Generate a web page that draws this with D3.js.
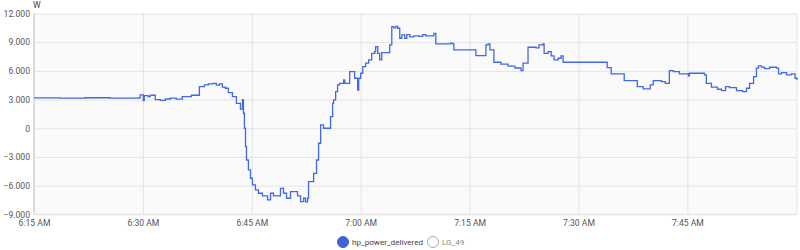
<!DOCTYPE html>
<html>
<head>
<meta charset="utf-8">
<script src="https://cdn.jsdelivr.net/npm/d3@7"></script>
<style>
  body { margin: 0; background: #fff; }
  svg { display: block; font-family: Roboto, sans-serif; }
</style>
</head>
<body>
<div class="chart"></div>
<script>
var times = [
  "06:15:00","06:18:35","06:22:02","06:25:29","06:29:30","06:29:38","06:30:03","06:30:11",
  "06:30:44","06:31:01","06:31:42","06:32:24","06:33:05","06:33:46","06:34:36","06:35:26",
  "06:36:40","06:37:47","06:38:28","06:39:01","06:39:42","06:40:07","06:40:32","06:40:57",
  "06:41:22","06:41:47","06:42:20","06:42:53","06:43:26","06:43:43","06:43:51","06:43:59",
  "06:44:08","06:44:16","06:44:32","06:44:49","06:45:05","06:45:30","06:45:55","06:46:28",
  "06:47:10","06:47:35","06:47:59","06:48:57","06:49:22","06:49:47","06:50:20","06:51:18",
  "06:51:43","06:52:08","06:52:24","06:52:41","06:52:49","06:53:31","06:53:55","06:54:12",
  "06:54:29","06:54:53","06:55:51","06:56:08","06:56:16","06:56:33","06:56:49","06:57:06",
  "06:57:39","06:57:48","06:58:29","06:59:10","06:59:35","06:59:44","07:00:00","07:00:17",
  "07:00:41","07:01:06","07:01:31","07:01:56","07:02:04","07:02:21","07:02:37","07:02:54",
  "07:04:00","07:04:17","07:04:33","07:04:50","07:05:06","07:05:23","07:05:40","07:06:04",
  "07:06:21","07:06:46","07:07:19","07:08:00","07:08:33","07:08:58","07:10:05","07:10:21",
  "07:12:25","07:12:42","07:12:50","07:15:52","07:17:15","07:17:32","07:17:48","07:18:21",
  "07:19:19","07:20:17","07:21:15","07:22:05","07:22:22","07:23:03","07:24:09","07:24:34",
  "07:25:07","07:25:16","07:25:49","07:26:14","07:26:38","07:27:12","07:27:36","07:27:53",
  "07:33:57","07:34:30","07:36:18","07:38:06","07:38:55","07:39:53","07:40:18","07:41:25",
  "07:41:58","07:42:31","07:43:04","07:43:54","07:45:08","07:45:16","07:47:21","07:47:37",
  "07:48:19","07:49:08","07:49:42","07:50:15","07:50:48","07:51:46","07:52:36","07:53:09",
  "07:53:34","07:54:07","07:54:31","07:54:48","07:55:13","07:55:38","07:56:19","07:57:17",
  "07:57:34","07:57:58","07:58:40","07:59:21","07:59:50","08:00:06"
];
var power = [
  3170,3150,3190,3160,3200,3480,2900,3420,
  3300,3450,3000,2920,3060,3150,3050,3300,
  3450,4350,4530,4630,4700,4500,4650,4300,
  4180,3720,3300,2610,1990,3000,1570,0,
  -1920,-3320,-4360,-5230,-5930,-6450,-6800,-7080,
  -7500,-6800,-7080,-6280,-6800,-7320,-6630,-7080,
  -7680,-7320,-7700,-7320,-5590,-4710,-3320,-1570,
  350,0,1210,2610,2960,3830,4530,4700,
  5050,4700,5920,5230,4000,5230,5750,6440,
  6800,7140,7840,8010,8530,7840,7140,7900,
  8710,10630,10500,10650,10460,9410,9760,9400,
  9800,9550,9650,9600,9800,9650,9930,8820,
  8900,8820,8190,7590,8710,8820,8190,6900,
  6700,6500,6300,6030,6800,8470,8400,8710,
  8820,7840,8010,7560,7140,7320,7560,6900,
  6340,5680,4980,4350,4110,4530,4980,4880,
  4700,6030,5920,5680,5470,5750,5580,4700,
  4290,4080,3930,4350,4250,3930,3830,4180,
  4700,5400,6280,6520,6400,6230,6380,6280,
  5680,5820,5580,5680,5230,5050
];
var yTicks = [-9000, -6000, -3000, 0, 3000, 6000, 9000, 12000];
var xTicks = ["06:15", "06:30", "06:45", "07:00", "07:15", "07:30", "07:45"];
var seriesNames = ["hp_power_delivered", "LG_49"];

function init() {
    var w = 800;
    var h = 250;
    var left = 34, right = 797, top = 13.5, bottom = 214.3;

    var parseTime = d3.timeParse("%H:%M:%S");
    var parseTick = d3.timeParse("%H:%M");
    var data = times.map(function(t, i) {
        return { date: parseTime(t), value: power[i] };
    });

    var x = d3.scaleTime()
        .domain([parseTime("06:15:00"), parseTime("08:00:06")])
        .range([left, right]);
    var y = d3.scaleLinear()
        .domain([-9000, 12000])
        .range([bottom, top]);

    var svg = d3.select(".chart")
        .append("svg")
        .attr("width", w)
        .attr("height", h);

    svg.append("rect")
        .attr("x", left)
        .attr("y", top)
        .attr("width", right - left)
        .attr("height", bottom - top)
        .attr("fill", "#fafafa");

    var fmt = d3.formatLocale({ decimal: ",", thousands: ".", grouping: [3], currency: ["", ""] }).format(",d");

    var yAxis = svg.append("g")
        .attr("transform", "translate(" + left + ",0)")
        .call(d3.axisLeft(y).tickValues(yTicks).tickSize(-(right - left)).tickPadding(4).tickFormat(fmt));
    var xAxis = svg.append("g")
        .attr("transform", "translate(0," + bottom + ")")
        .call(d3.axisBottom(x).tickValues(xTicks.map(parseTick)).tickSize(-(bottom - top)).tickPadding(6)
            .tickFormat(d3.timeFormat("%-I:%M %p")));

    [yAxis, xAxis].forEach(function(g) {
        g.select(".domain").remove();
        g.selectAll(".tick line").attr("stroke", "#e4e4e4").attr("stroke-width", 1);
        g.selectAll(".tick text").attr("fill", "#555").style("font-size", "8.6px").style("font-family", "Roboto, sans-serif");
    });

    // frame: left axis, bottom and right edges
    svg.append("line").attr("x1", left).attr("x2", left).attr("y1", top).attr("y2", bottom)
        .attr("stroke", "#d6d6d6").attr("stroke-width", 1.5);
    svg.append("line").attr("x1", left).attr("x2", right).attr("y1", bottom).attr("y2", bottom)
        .attr("stroke", "#e4e4e4");
    svg.append("line").attr("x1", right).attr("x2", right).attr("y1", top).attr("y2", bottom)
        .attr("stroke", "#e4e4e4");

    svg.append("text")
        .attr("x", left - 1)
        .attr("y", 8)
        .attr("fill", "#444")
        .style("font-size", "8.6px")
        .text("W");

    var line = d3.line()
        .curve(d3.curveStepAfter)
        .x(function(d) { return x(d.date); })
        .y(function(d) { return y(d.value); });

    svg.append("path")
        .datum(data)
        .attr("fill", "none")
        .attr("stroke", "#4169e1")
        .attr("stroke-width", 1.3)
        .attr("d", line);

    // legend
    var legend = svg.append("g").attr("transform", "translate(343,242)");
    var offsets = [0, 90];
    seriesNames.forEach(function(name, i) {
        var g = legend.append("g").attr("transform", "translate(" + offsets[i] + ",0)");
        g.append("circle")
            .attr("r", 5.5)
            .attr("fill", i == 0 ? "#3f63d6" : "#fff")
            .attr("stroke", i == 0 ? "#3f63d6" : "#aaa")
            .attr("stroke-width", 1);
        g.append("text")
            .attr("x", 9)
            .attr("y", 3.2)
            .attr("fill", i == 0 ? "#444" : "#888")
            .style("font-size", "8.1px")
            .text(name);
    });
}

init()
</script>
</body>
</html>
